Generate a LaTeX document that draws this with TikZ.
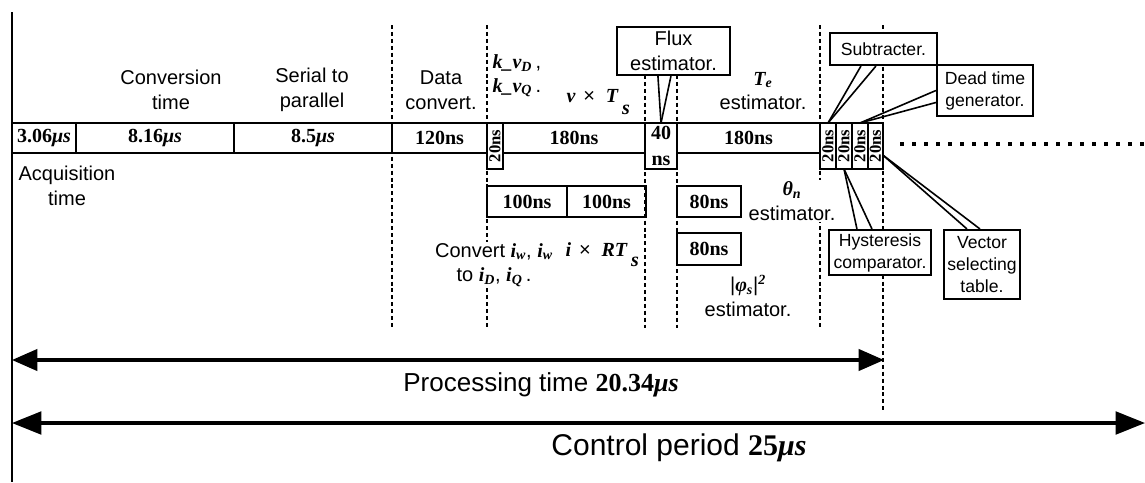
\documentclass[tikz,border=0pt]{standalone}
\usepackage{fontspec}
\setmainfont{Liberation Sans}
\newfontfamily\numfont{Liberation Serif}
\usepackage{graphicx}
\usepackage{tikz}
\usetikzlibrary{arrows.meta,positioning,calc}
\newcommand\pxu{0.75pt}
\newcommand\bi[1]{{\numfont\bfseries\itshape #1}}
\newcommand\mus{\textit{μs}}
\newcommand\lblfont{\fontsize{15}{18.5}\selectfont}
\newcommand\boxfont{\fontsize{13.2}{16.5}\selectfont}
\newcommand\cellfont{\numfont\bfseries\fontsize{15}{19.5}\selectfont}
\newcommand\rot[1]{\rotatebox{90}{\fontsize{12.5}{12.5}\selectfont #1}}

\begin{document}
\begin{tikzpicture}[x=0.75pt, y=-0.75pt,
  lbl/.style={font=\lblfont, align=center, inner sep=1pt},
  cell/.style={draw, line width=1.6pt, inner sep=0pt, outer sep=0pt, anchor=north west, align=center, minimum height=30*\pxu, font=\cellfont},
  tallcell/.style={cell, minimum height=46*\pxu},
  box/.style={draw, line width=1.6pt, fill=white, align=center, inner sep=0pt, font=\boxfont},
  grid/.style={line width=2.1pt, dash pattern=on 3pt off 2.2pt},
  dots/.style={line width=2.6pt, dash pattern=on 3pt off 6pt},
  callout/.style={line width=1.2pt},
  span/.style={line width=2.3pt, {Triangle[length=19pt,width=16pt]}-{Triangle[length=19pt,width=16pt]}},
  bigspan/.style={line width=2.3pt, {Triangle[length=22pt,width=17pt]}-{Triangle[length=22pt,width=17pt]}}
]
\useasboundingbox (0,0) rectangle (1145,482);

% time axis and step borders
\draw[line width=2pt] (12,12) -- (12,482);
\foreach \gx/\gtop/\gbot in {392/25/328, 487/25/328, 645/75/328, 677/75/328, 820/25/328, 883/25/410}
  \draw[grid] (\gx,\gtop) -- (\gx,\gbot);
\draw[dots] (900,144) -- (1145,144);

% main time bar
\node[cell, minimum width=64*\pxu] (c1) at (12,123) {3.06\mus};
\node[cell, minimum width=158*\pxu] (c2) at (c1.north east) {8.16\mus};
\node[cell, minimum width=158*\pxu] (c3) at (c2.north east) {8.5\mus};
\node[cell, minimum width=95*\pxu] (c4) at (c3.north east) {120ns};
\node[tallcell, minimum width=16*\pxu] (c5) at (c4.north east) {\rot{20ns}};
\node[cell, minimum width=142*\pxu] (c6) at (c5.north east) {180ns};
\node[tallcell, minimum width=32*\pxu] (c7) at (c6.north east) {40\\ns};
\node[cell, minimum width=143*\pxu] (c8) at (c7.north east) {180ns};
\node[tallcell, minimum width=16*\pxu] (c9) at (c8.north east) {\rot{20ns}};
\node[tallcell, minimum width=16*\pxu] (c10) at (c9.north east) {\rot{20ns}};
\node[tallcell, minimum width=16*\pxu] (c11) at (c10.north east) {\rot{20ns}};
\node[tallcell, minimum width=15*\pxu] (c12) at (c11.north east) {\rot{20ns}};

% parallel steps
\node[cell, minimum width=80*\pxu, minimum height=31*\pxu] (d1) at (487,186) {100ns};
\node[cell, minimum width=79*\pxu, minimum height=31*\pxu] (d2) at (d1.north east) {100ns};
\node[cell, minimum width=64*\pxu, minimum height=31*\pxu] (e1) at (677,186) {80ns};
\node[cell, minimum width=64*\pxu, minimum height=32*\pxu, below=12pt of e1] (e2) {80ns};

% labels
\node[lbl] (convlbl) at (171,90) {Conversion\\time};
\node[lbl] (serlbl) at (312,90) {Serial to\\parallel};
\node[lbl] (datalbl) at (441,90) {Data\\convert.};
\node[lbl] (acqlbl) at (67,186) {Acquisition\\time};
\node[lbl, anchor=west, align=left, font=\fontsize{15}{17.5}\selectfont] (klbl) at (491,76) {\bi{k\_v}\textsubscript{\bi{D}}\,,\\\bi{k\_v}\textsubscript{\bi{Q}}\,.};
\node[lbl, anchor=base west] (vtlbl) at (565,102) {\bi{v}\hspace{6pt}×\hspace{8pt}\bi{T}\hspace{3pt}\raisebox{-9.5pt}{\bi{s}}};
\node[lbl] (telbl) at (763,91) {\bi{T}\textsubscript{\bi{e}}\\estimator.};
\node[lbl, fill=white] (thlbl) at (792,201) {\bi{θ}\textsubscript{\bi{n}}\\estimator.};
\node[lbl] (philbl) at (748,296) {|\bi{φ}\textsubscript{\bi{s}}|\textsuperscript{\bi{2}}\\estimator.};
\node[lbl, fill=white] (cvlbl) at (494,265) {Convert \bi{i}\textsubscript{\bi{w}}, \bi{i}\textsubscript{\bi{w}}\\to \bi{i}\textsubscript{\bi{D}}, \bi{i}\textsubscript{\bi{Q}}\,.};
\node[lbl, anchor=base west] (irlbl) at (564,256) {\bi{i}\hspace{6pt}×\hspace{8pt}\bi{RT}\hspace{3pt}\raisebox{-8pt}{\bi{s}}};

% callouts
\node[box, font=\lblfont, minimum width=113*\pxu, minimum height=48*\pxu] (flux) at (673.5,51) {Flux\\estimator.};
\node[box, minimum width=107*\pxu, minimum height=32*\pxu] (subtr) at (883.5,49) {Subtracter.};
\node[box, minimum width=96*\pxu, minimum height=51*\pxu] (dead) at (985,90.5) {Dead time\\generator.};
\node[box, minimum width=102*\pxu, minimum height=45*\pxu] (hyst) at (880,252.5) {Hysteresis\\comparator.};
\node[box, minimum width=76*\pxu, minimum height=69*\pxu] (vect) at (982,264.5) {Vector\\selecting\\table.};

\draw[callout] ($(flux.south west)+(42,0)$) -- (c7.north);
\draw[callout] ($(flux.south west)+(55,0)$) -- (c7.north);
\draw[callout] ($(subtr.south west)+(32,0)$) -- (c9.north);
\draw[callout] ($(subtr.south west)+(47,0)$) -- (c9.north);
\draw[callout] (dead.west) -- (c11.north);
\draw[callout] ($(dead.west)+(0,12)$) -- (c11.north);
\draw[callout] ($(hyst.north west)+(29,0)$) -- (c10.south);
\draw[callout] ($(hyst.north west)+(44,0)$) -- (c10.south);
\draw[callout] ($(vect.north west)+(24,0)$) -- ($(c12.north east)!0.7!(c12.south east)$);
\draw[callout] ($(vect.north west)+(37,0)$) -- ($(c12.north east)!0.7!(c12.south east)$);

% periods
\coordinate (procL) at (12,360);
\coordinate (procR) at (884,360);
\coordinate (ctrlL) at (12,423);
\coordinate (ctrlR) at (1145,423);
\draw[span] (procL) -- (procR);
\draw[bigspan] (ctrlL) -- (ctrlR);
\node[font=\fontsize{19.5}{22}\selectfont] (proclbl) at (541,385) {Processing time {\numfont\bfseries 20.34\mus}};
\node[font=\fontsize{22.5}{25}\selectfont] (ctrllbl) at (679,448) {Control period {\numfont\bfseries 25\mus}};
\end{tikzpicture}
\end{document}
